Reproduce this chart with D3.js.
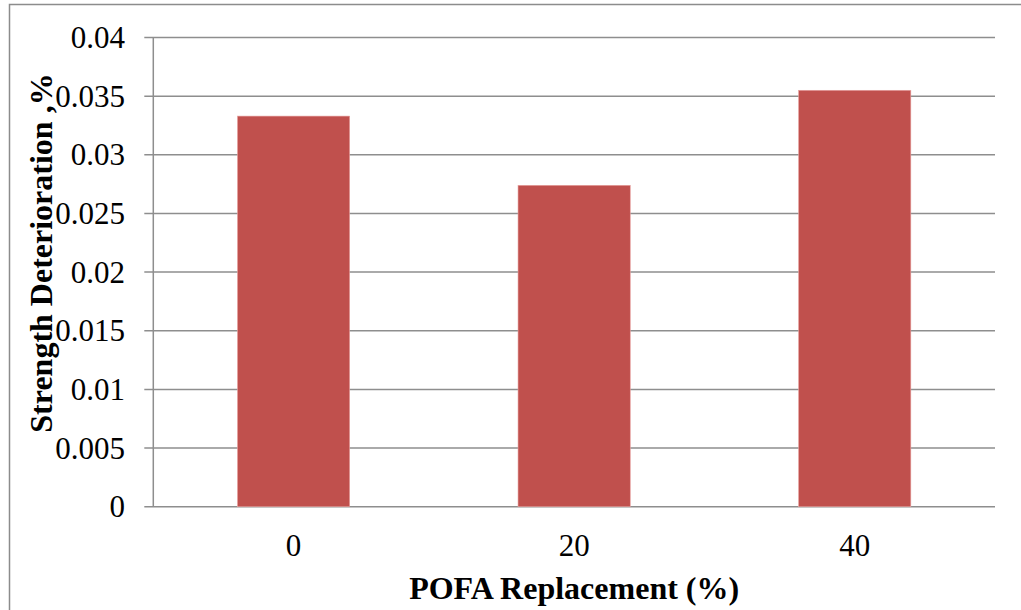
<!DOCTYPE html>
<html>
<head>
<meta charset="utf-8">
<script src="https://cdn.jsdelivr.net/npm/d3@7"></script>
<style>
  html, body { margin: 0; padding: 0; background: #fff; }
  svg { display: block; }
</style>
</head>
<body>
<script>
// POFA replacement levels and measured strength deterioration
const categories = ["0", "20", "40"];
const deterioration = [0.0333, 0.0274, 0.0355];
const yTicks = [0, 0.005, 0.01, 0.015, 0.02, 0.025, 0.03, 0.035, 0.04];
const xTitle = "POFA Replacement (%)";
const yTitle = "Strength Deterioration ,%";

const W = 1021, H = 610;
const plot = { left: 153.3, right: 995, top: 37.5, bottom: 506.7 };
const font = "'Liberation Serif', 'Times New Roman', serif";

const svg = d3.select("body").append("svg")
  .attr("width", W).attr("height", H);

// chart frame
svg.append("path")
  .attr("d", `M9.5,${H} V4.5 H${W}`)
  .attr("fill", "none").attr("stroke", "#8c8c8c").attr("stroke-width", 1.5);

const x = d3.scaleBand().domain(categories).range([plot.left, plot.right])
  .paddingInner(0.6).paddingOuter(0.3);
const y = d3.scaleLinear().domain([0, 0.04]).range([plot.bottom, plot.top]);

// horizontal gridlines
svg.append("g").selectAll("line").data(yTicks).join("line")
  .attr("x1", plot.left - 9).attr("x2", plot.right)
  .attr("y1", d => y(d)).attr("y2", d => y(d))
  .attr("stroke", "#8e8e8e").attr("stroke-width", 1.5);

// y axis line
svg.append("line")
  .attr("x1", plot.left).attr("x2", plot.left).attr("y1", plot.top).attr("y2", plot.bottom)
  .attr("stroke", "#8e8e8e").attr("stroke-width", 1.5);

// y tick labels
svg.append("g").selectAll("text").data(yTicks).join("text")
  .attr("x", 125).attr("y", d => y(d) + 10.5)
  .attr("text-anchor", "end")
  .attr("font-family", font).attr("font-size", 31).attr("fill", "#000")
  .text(d => d === 0 ? "0" : String(+d.toFixed(3)));

// bars
svg.append("g").selectAll("rect").data(deterioration).join("rect")
  .attr("x", (d, i) => x(categories[i]))
  .attr("width", x.bandwidth())
  .attr("y", d => y(d))
  .attr("height", d => plot.bottom - y(d))
  .attr("fill", "#c0504d")
  .attr("stroke", "#e8a3a1").attr("stroke-width", 0.6);

// x tick labels
svg.append("g").selectAll("text").data(categories).join("text")
  .attr("x", d => x(d) + x.bandwidth() / 2).attr("y", 556)
  .attr("text-anchor", "middle")
  .attr("font-family", font).attr("font-size", 31).attr("fill", "#000")
  .text(d => d);

// axis titles
svg.append("text")
  .attr("x", (plot.left + plot.right) / 2).attr("y", 599)
  .attr("text-anchor", "middle")
  .attr("font-family", font).attr("font-size", 32).attr("font-weight", "bold")
  .text(xTitle);

svg.append("text")
  .attr("transform", "translate(52,253) rotate(-90)")
  .attr("text-anchor", "middle")
  .attr("font-family", font).attr("font-size", 32).attr("font-weight", "bold")
  .text(yTitle);
</script>
</body>
</html>
